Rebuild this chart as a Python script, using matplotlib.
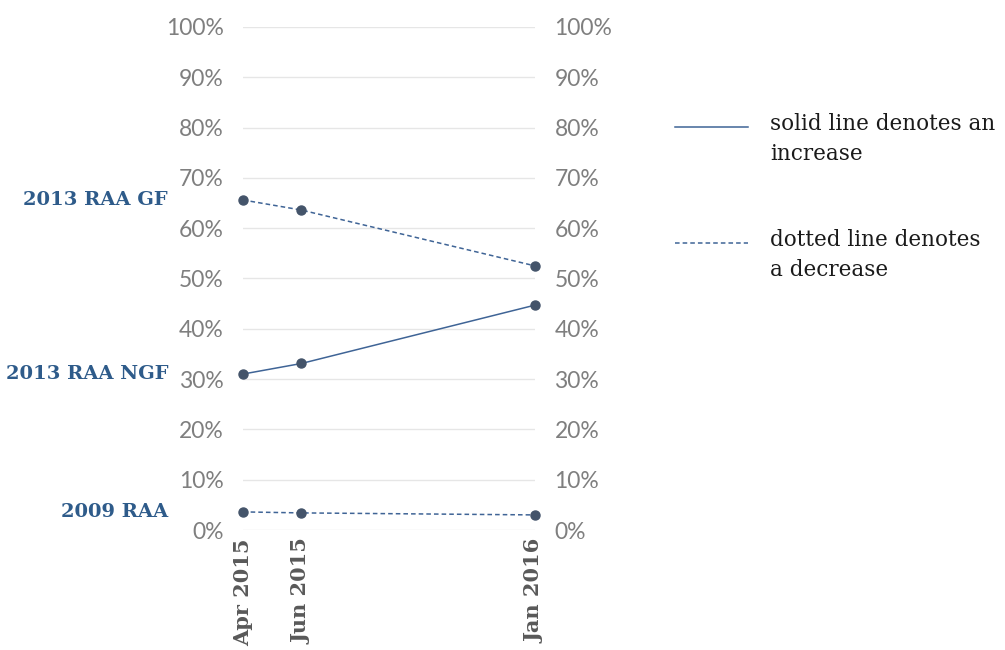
import matplotlib.pyplot as plt
from matplotlib.lines import Line2D
from matplotlib.ticker import MultipleLocator, PercentFormatter

# months since Apr 2015 for each survey point
months = [0, 2, 10]
month_labels = ["Apr 2015", "Jun 2015", "Jan 2016"]

series_names = ["2013 RAA GF", "2013 RAA NGF", "2009 RAA"]
gf_2013 = [65.6, 63.6, 52.5]
ngf_2013 = [31.0, 33.1, 44.7]
raa_2009 = [3.6, 3.4, 3.0]
series_values = [gf_2013, ngf_2013, raa_2009]

LINE_COLOR = "#3F6496"
DOT_COLOR = "#44546A"
NAME_COLOR = "#2E5B8A"
TICK_COLOR = "#7F7F7F"
SERIF = "DejaVu Serif"
SANS = "Lato"


def main() -> None:
    fig = plt.figure(figsize=(10.05, 6.5), dpi=100)
    ax = fig.add_axes([0.2418, 0.1846, 0.2905, 0.774])

    for name, vals in zip(series_names, series_values):
        style = "-" if vals[-1] > vals[0] else (0, (3, 2))
        ax.plot(months, vals, color=LINE_COLOR, linestyle=style, linewidth=1.1,
                marker="o", markersize=6.5, markerfacecolor=DOT_COLOR,
                markeredgecolor=DOT_COLOR, zorder=3, clip_on=False)
        ax.annotate(name, xy=(months[0], vals[0]), xytext=(-54, 0),
                    textcoords="offset points", ha="right", va="center",
                    fontsize=14, fontweight="bold", family=SERIF, color=NAME_COLOR)

    ax.set_xlim(months[0], months[-1])
    ax.set_ylim(0, 100)
    ax.yaxis.set_major_locator(MultipleLocator(10))
    ax.yaxis.set_major_formatter(PercentFormatter(decimals=0))
    ax.grid(axis="y", color="#E6E6E6", linewidth=1)
    ax.set_axisbelow(True)
    for sp in ax.spines.values():
        sp.set_visible(False)

    ax.tick_params(axis="y", length=0, pad=14, labelsize=16.5, labelcolor=TICK_COLOR,
                   right=True, labelright=True)
    for lab in ax.get_yticklabels():
        lab.set_family(SANS)

    ax.set_xticks(months)
    ax.set_xticklabels(month_labels, rotation=90, fontsize=15, fontweight="bold",
                       family=SERIF, color="#595959")
    ax.tick_params(axis="x", length=0, pad=6)

    # legend drawn by hand to the right
    fig.add_artist(Line2D([0.672, 0.744], [0.805, 0.805], color=LINE_COLOR,
                          linewidth=1.1, transform=fig.transFigure))
    fig.add_artist(Line2D([0.672, 0.744], [0.626, 0.626], color=LINE_COLOR,
                          linewidth=1.1, linestyle=(0, (3, 2)), transform=fig.transFigure))
    fig.text(0.766, 0.826, "solid line denotes an\nincrease", fontsize=15.5, family=SERIF,
             color="#1A1A1A", va="top", linespacing=1.45)
    fig.text(0.766, 0.647, "dotted line denotes\na decrease", fontsize=15.5, family=SERIF,
             color="#1A1A1A", va="top", linespacing=1.45)

    fig.savefig("out.png", dpi=100)


if __name__ == "__main__":
    main()
